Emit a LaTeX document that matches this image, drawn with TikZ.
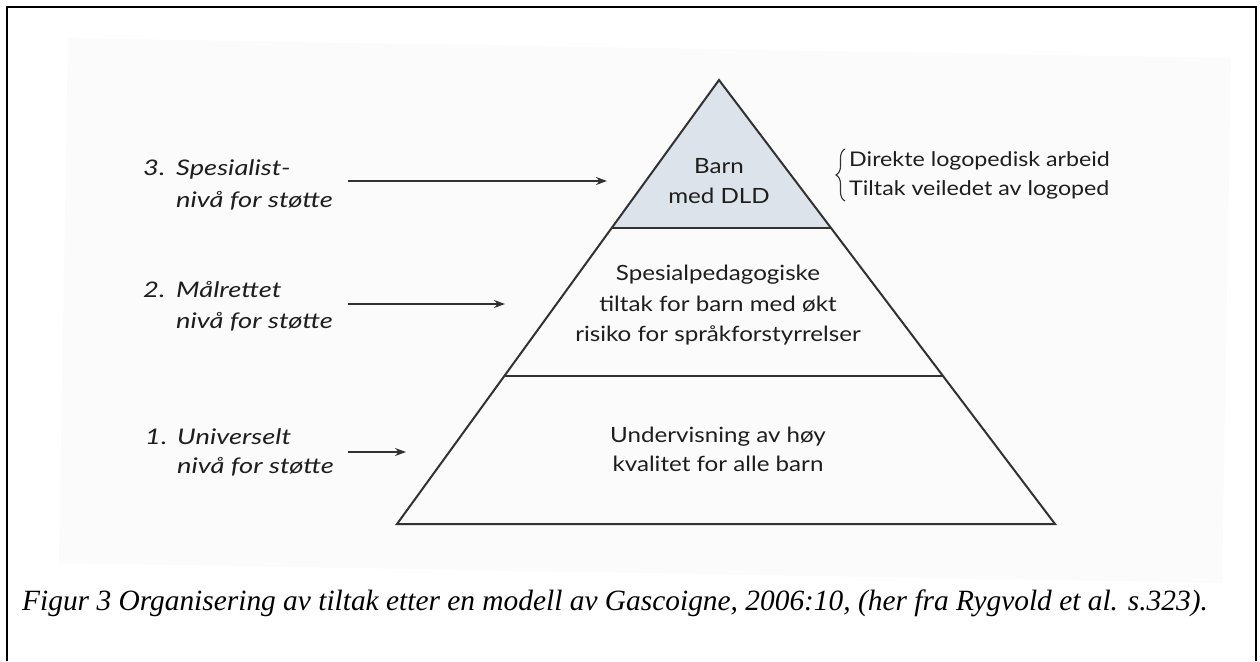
\documentclass[tikz,border=0pt]{standalone}
\usepackage{fontspec}
\setmainfont{Liberation Serif}
\newfontfamily\diagfont[FakeStretch=1.15]{Lato}
\newfontfamily\levelfont[FakeStretch=1.27]{Lato}
\usetikzlibrary{arrows.meta,decorations.pathreplacing,calc}

\definecolor{tipfill}{RGB}{221,227,234}
\definecolor{inkline}{RGB}{50,50,50}
\definecolor{textink}{RGB}{30,30,30}
\definecolor{scanbg}{RGB}{251,251,251}

\tikzset{
  pyr/.style={draw=inkline, line width=2pt, line join=miter},
  tiertext/.style={font=\diagfont\fontsize{21}{25}\selectfont, text=textink, anchor=base, inner sep=0pt},
  sidetext/.style={font=\diagfont\fontsize{20.2}{24}\selectfont, text=textink, anchor=base west, inner sep=0pt},
  lvltext/.style={font=\levelfont\itshape\fontsize{21.5}{25}\selectfont, text=textink, anchor=base west, inner sep=0pt},
  pointer/.style={draw=inkline, line width=1.6pt, -{Stealth[length=11pt,width=8pt]}},
  captiontext/.style={font=\itshape\fontsize{29.4}{34}\selectfont, text=black, anchor=base, inner sep=0pt},
}

\begin{document}
\begin{tikzpicture}[x=1pt,y=-1pt]
\useasboundingbox (0,0) rectangle (1260,661);

% page frame, open at the bottom
\draw[black, line width=2.5pt] (7,661) -- (7,7) -- (1256,7) -- (1256,661);

% scanned figure area
\fill[scanbg] (68,38) -- (1231,58) -- (1222,583) -- (59,563) -- cycle;

% pyramid corners
\coordinate (apex) at (719,80);
\coordinate (bl) at (397,524);
\coordinate (br) at (1055,524);
\coordinate (l1a) at ($(apex)!1/3!(bl)$);
\coordinate (l1b) at ($(apex)!1/3!(br)$);
\coordinate (l2a) at ($(apex)!2/3!(bl)$);
\coordinate (l2b) at ($(apex)!2/3!(br)$);

\fill[tipfill] (apex) -- (l1a) -- (l1b) -- cycle;
\draw[pyr] (apex) -- (bl) -- (br) -- cycle;
\draw[pyr] (l1a) -- (l1b);
\draw[pyr] (l2a) -- (l2b);

% tier texts
\node[tiertext] (t3a) at (719,173) {Barn};
\node[tiertext] (t3b) at (719,203) {med DLD};
\node[tiertext] (t2a) at (718,280) {Spesialpedagogiske};
\node[tiertext] (t2b) at (718,311) {tiltak for barn med økt};
\node[tiertext] (t2c) at (718,341) {risiko for språkforstyrrelser};
\node[tiertext] (t1a) at (718,442) {Undervisning av høy};
\node[tiertext] (t1b) at (718,471) {kvalitet for alle barn};

% brace and specialist notes
\coordinate (brbot) at (845,201);
\coordinate (brtop) at (845,149);
\draw[inkline, line width=1.1pt, decorate, decoration={brace, amplitude=9pt}] (brbot) -- (brtop);
\node[sidetext] (n1) at (849,166) {Direkte logopedisk arbeid};
\node[sidetext] (n2) at (849,195) {Tiltak veiledet av logoped};

% level labels
\node[lvltext] (k3) at (143,175) {3.};
\node[lvltext] (k3a) at (176,175) {Spesialist-};
\node[lvltext] (k3b) at (176,207) {nivå for støtte};
\node[lvltext] (k2) at (143,297) {2.};
\node[lvltext] (k2a) at (176,297) {Målrettet};
\node[lvltext] (k2b) at (176,328) {nivå for støtte};
\node[lvltext] (k1) at (145,444) {1.};
\node[lvltext] (k1a) at (177,444) {Universelt};
\node[lvltext] (k1b) at (177,473) {nivå for støtte};

% level arrows
\coordinate (a3s) at (348,181);
\coordinate (a3e) at (607,181);
\coordinate (a2s) at (348,304);
\coordinate (a2e) at (505,304);
\coordinate (a1s) at (348,452);
\coordinate (a1e) at (406,452);
\draw[pointer] (a3s) -- (a3e);
\draw[pointer] (a2s) -- (a2e);
\draw[pointer] (a1s) -- (a1e);

% caption
\node[captiontext] (cap) at (615,610) {Figur 3 Organisering av tiltak etter en modell av Gascoigne, 2006:10, (her fra Rygvold et al. s.323).};
\end{tikzpicture}
\end{document}
